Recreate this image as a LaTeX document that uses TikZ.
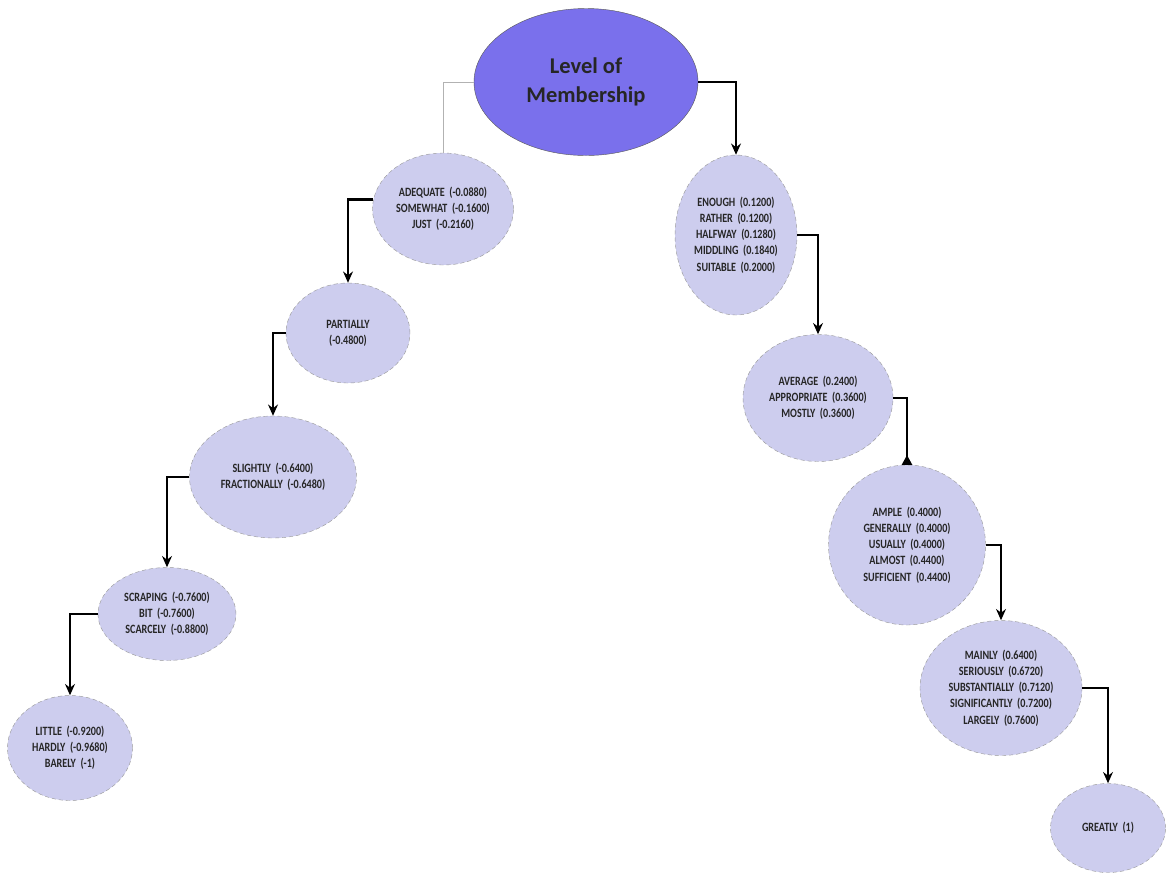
\documentclass[tikz,border=0pt]{standalone}
\usepackage{fontspec}
\setmainfont{Carlito}
\newfontfamily\termfont[FakeStretch=0.8]{Carlito}
\usepackage{xcolor}
\usetikzlibrary{shapes.geometric,arrows.meta}

\definecolor{rootfill}{RGB}{122,112,236}
\definecolor{termfill}{RGB}{205,205,238}

\begin{document}
\begin{tikzpicture}[
    x=0.025cm, y=-0.025cm,
    rootnode/.style={ellipse, draw=gray!70!black, line width=0.3pt, fill=rootfill, inner sep=0pt, align=center, minimum width=224*0.025cm, minimum height=147*0.025cm, text=black!85, font=\bfseries\fontsize{16}{21}\selectfont},
    term/.style 2 args={ellipse, draw=gray!80, densely dashed, line width=0.3pt, fill=termfill, inner sep=0pt, align=center, minimum width=#1*0.025cm, minimum height=#2*0.025cm, text=black!85, font=\termfont\bfseries\fontsize{9}{11.5}\selectfont},
    link/.style={line width=2pt, -{Stealth[length=8pt,width=7pt]}},
]
    \useasboundingbox (0,0) rectangle (1169,877);

    \node[rootnode] (root) at (586,82) {Level of\\Membership};

    % negative side
    \node[term={141}{112}] (adequate) at (443,209) {ADEQUATE\ \ (-0.0880)\\SOMEWHAT\ \ (-0.1600)\\JUST\ \ (-0.2160)};
    \node[term={124}{100}] (partially) at (348,333) {PARTIALLY\\(-0.4800)};
    \node[term={167}{122}] (slightly) at (273,477) {SLIGHTLY\ \ (-0.6400)\\FRACTIONALLY\ \ (-0.6480)};
    \node[term={138}{93}] (scraping) at (167,614) {SCRAPING\ \ (-0.7600)\\BIT\ \ (-0.7600)\\SCARCELY\ \ (-0.8800)};
    \node[term={125}{105}] (little) at (70,748) {LITTLE\ \ (-0.9200)\\HARDLY\ \ (-0.9680)\\BARELY\ \ (-1)};

    % positive side
    \node[term={122}{160}] (enough) at (736,235) {ENOUGH\ \ (0.1200)\\RATHER\ \ (0.1200)\\HALFWAY\ \ (0.1280)\\MIDDLING\ \ (0.1840)\\SUITABLE\ \ (0.2000)};
    \node[term={150}{127}] (average) at (818,398) {AVERAGE\ \ (0.2400)\\APPROPRIATE\ \ (0.3600)\\MOSTLY\ \ (0.3600)};
    \node[term={157}{160}] (ample) at (907,545) {AMPLE\ \ (0.4000)\\GENERALLY\ \ (0.4000)\\USUALLY\ \ (0.4000)\\ALMOST\ \ (0.4400)\\SUFFICIENT\ \ (0.4400)};
    \node[term={162}{135}] (mainly) at (1001,688) {MAINLY\ \ (0.6400)\\SERIOUSLY\ \ (0.6720)\\SUBSTANTIALLY\ \ (0.7120)\\SIGNIFICANTLY\ \ (0.7200)\\LARGELY\ \ (0.7600)};
    \node[term={115}{89}] (greatly) at (1108,828) {GREATLY\ \ (1)};

    % connectors
    \draw[gray!60, line width=0.5pt] (root.west) -| (adequate);
    \draw[link] (root.east) -| (enough);
    \draw[link] (adequate.172) -| (partially);
    \draw[link] (partially.west) -| (slightly);
    \draw[link] (slightly.west) -| (scraping);
    \draw[link] (scraping.west) -| (little);
    \draw[link] (enough.east) -| (average);
    \draw[line width=2pt, -{Triangle[reversed, length=7pt, width=7pt]}] (average.east) -| (ample);
    \draw[link] (ample.east) -| (mainly);
    \draw[link] (mainly.east) -| (greatly);
\end{tikzpicture}
\end{document}
